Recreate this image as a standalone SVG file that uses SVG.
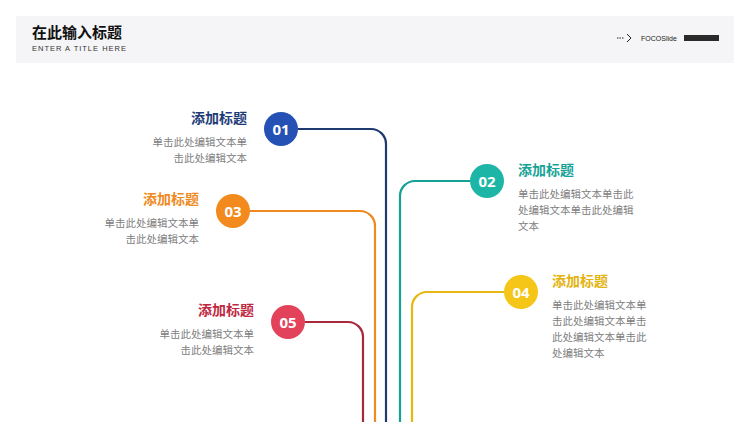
<svg xmlns="http://www.w3.org/2000/svg" width="750" height="422" viewBox="0 0 750 422">
<style>
.ln{fill:none;stroke-width:2.2}
.num{font-family:"Open Sans","Noto Sans CJK SC",sans-serif;font-weight:bold;font-size:15px;fill:#fff;text-anchor:middle}
.tt{font-family:"Noto Sans CJK SC",sans-serif;font-weight:bold;font-size:14px}
.bd{font-family:"Noto Sans CJK SC",sans-serif;font-size:10.5px;fill:#808080}
.r{text-anchor:end}
</style>
<rect width="750" height="422" fill="#fff"/>
<g id="header">
<rect x="16" y="16" width="718" height="47" fill="#f5f5f7"/>
<text x="32" y="38" font-family="Noto Sans CJK SC,sans-serif" font-weight="bold" font-size="15" fill="#111">在此输入标题</text>
<text x="32" y="51" font-family="Liberation Sans,sans-serif" font-size="7.5" letter-spacing="1" fill="#333">ENTER A TITLE HERE</text>
<path d="M617 38h7M627 34l4 4l-4 4" fill="none" stroke="#222" stroke-width="1" stroke-dasharray="1.5 1"/>
<path d="M627 34l4 4l-4 4" fill="none" stroke="#222" stroke-width="1"/>
<text x="641" y="41" font-family="Liberation Sans,sans-serif" font-size="7" fill="#222">FOCOSlide</text>
<rect x="684" y="35" width="35" height="6" fill="#2a2a2a"/>
</g>
<g id="connectors">
<path class="ln" stroke="#1f3a6e" d="M298 129H371a15 15 0 0 1 15 15V422"/>
<path class="ln" stroke="#ee8a22" d="M250 211H360a15 15 0 0 1 15 15V422"/>
<path class="ln" stroke="#a8283d" d="M305 322H348a15 15 0 0 1 15 15V422"/>
<path class="ln" stroke="#15a196" d="M470 181H415a15 15 0 0 0 -15 15V422"/>
<path class="ln" stroke="#e8b812" d="M504 292H427a15 15 0 0 0 -15 15V422"/>
</g>
<g id="n01"><circle cx="281" cy="129" r="17" fill="#2451b3"/><text class="num" x="281" y="134.5">01</text>
<text class="tt r" x="247" y="123" fill="#1e3c78">添加标题</text>
<text class="bd r" x="247" y="146">单击此处编辑文本单</text><text class="bd r" x="247" y="162">击此处编辑文本</text></g>
<g id="n03"><circle cx="233" cy="211" r="17" fill="#f28a1e"/><text class="num" x="233" y="216.5">03</text>
<text class="tt r" x="199" y="204" fill="#ee8a22">添加标题</text>
<text class="bd r" x="199" y="227">单击此处编辑文本单</text><text class="bd r" x="199" y="243">击此处编辑文本</text></g>
<g id="n05"><circle cx="288" cy="322" r="17" fill="#e2425a"/><text class="num" x="288" y="327.5">05</text>
<text class="tt r" x="254" y="315" fill="#c0283f">添加标题</text>
<text class="bd r" x="254" y="338">单击此处编辑文本单</text><text class="bd r" x="254" y="354">击此处编辑文本</text></g>
<g id="n02"><circle cx="487" cy="181" r="17" fill="#1cb5a6"/><text class="num" x="487" y="186.5">02</text>
<text class="tt" x="518" y="175" fill="#17a397">添加标题</text>
<text class="bd" x="518" y="198">单击此处编辑文本单击此</text><text class="bd" x="518" y="214">处编辑文本单击此处编辑</text><text class="bd" x="518" y="230">文本</text></g>
<g id="n04"><circle cx="521" cy="292" r="17" fill="#f5c518"/><text class="num" x="521" y="297.5">04</text>
<text class="tt" x="552" y="286" fill="#e3b30e">添加标题</text>
<text class="bd" x="552" y="309">单击此处编辑文本单</text><text class="bd" x="552" y="325">击此处编辑文本单击</text><text class="bd" x="552" y="341">此处编辑文本单击此</text><text class="bd" x="552" y="357">处编辑文本</text></g>
</svg>
